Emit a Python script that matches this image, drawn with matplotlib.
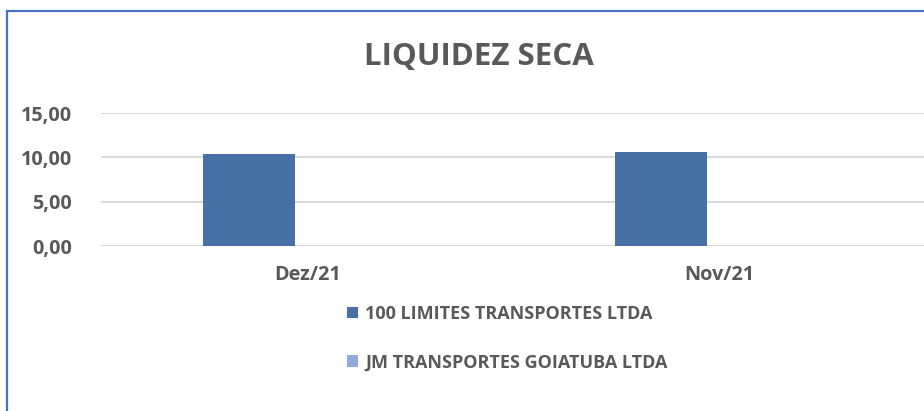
import matplotlib
matplotlib.use("Agg")
import matplotlib.pyplot as plt
from matplotlib.patches import Rectangle, Patch

categories = ["Dez/21", "Nov/21"]
series_names = ["100 LIMITES TRANSPORTES LTDA", "JM TRANSPORTES GOIATUBA LTDA"]
values_limites = [10.40, 10.65]
values_jm = [0.0, 0.0]
y_ticks = [0, 5, 10, 15]

COL_BAR1 = "#4670A6"
COL_BAR2 = "#8FAADC"
TEXT = "#595959"
GRID = "#D9D9D9"
FONT = ["Open Sans", "DejaVu Sans"]

W, H = 924, 411
fig = plt.figure(figsize=(W / 100, H / 100), dpi=100)
fig.patch.set_facecolor("white")

# chart frame (extends past right/bottom edge)
fig.add_artist(Rectangle((7 / W, -0.1), 1.2, (H - 11) / H + 0.1,
                         transform=fig.transFigure, fill=False,
                         edgecolor="#4472C4", linewidth=1.6, zorder=0))

ax = fig.add_axes([101 / W, (H - 246.5) / H, 825 / W, 133.5 / H])
x = list(range(len(categories)))
bw = 0.223
off = 0.142
ax.bar([i - off for i in x], values_limites, width=bw, color=COL_BAR1,
       label=series_names[0], zorder=3)
ax.bar([i + off for i in x], values_jm, width=bw, color=COL_BAR2,
       label=series_names[1], zorder=3)

ax.set_xlim(-0.5, len(categories) - 0.5)
ax.set_ylim(0, 15)
ax.set_yticks(y_ticks)
ax.set_yticklabels([f"{v:.2f}".replace(".", ",") for v in y_ticks])
ax.set_xticks(x)
ax.set_xticklabels(categories)
for s in ax.spines.values():
    s.set_visible(False)
ax.grid(axis="y", color=GRID, linewidth=1.5, zorder=0)
ax.set_axisbelow(True)
ax.tick_params(axis="both", length=0, colors=TEXT)
ax.tick_params(axis="y", pad=21)
ax.tick_params(axis="x", pad=13)
for lab in ax.get_xticklabels() + ax.get_yticklabels():
    lab.set_family(FONT)
    lab.set_fontweight("bold")
    lab.set_fontsize(14.3)

fig.text(479 / W, (H - 57.5) / H, "LIQUIDEZ SECA", ha="center", va="center",
         fontsize=22.5, color=TEXT, family=FONT, fontweight="bold")

handles = [Patch(facecolor=COL_BAR1), Patch(facecolor=COL_BAR2)]
leg = fig.legend(handles, series_names, loc="upper left",
                 bbox_to_anchor=(347 / W, (H - 305) / H),
                 frameon=False, borderpad=0, borderaxespad=0,
                 handlelength=0.62, handleheight=0.62, handletextpad=0.4,
                 labelspacing=1.68,
                 prop={"family": FONT, "weight": "bold", "size": 13})
for t in leg.get_texts():
    t.set_color(TEXT)

fig.savefig("out.png", dpi=100, facecolor="white")
